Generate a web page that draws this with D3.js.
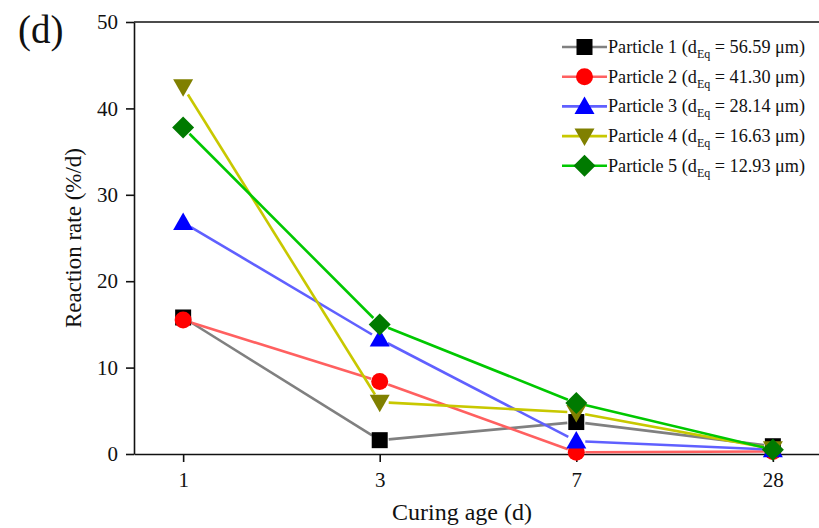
<!DOCTYPE html>
<html>
<head>
<meta charset="utf-8">
<script src="https://cdn.jsdelivr.net/npm/d3@7/dist/d3.min.js"></script>
<style>
  html, body { margin: 0; padding: 0; background: #fff; }
  svg { display: block; }
  text { font-family: "Liberation Serif", "Times New Roman", serif; fill: #111; }
</style>
</head>
<body>
<svg id="chart" width="819" height="528"></svg>
<script>
// Curing ages (categorical x axis)
const ages = ["1", "3", "7", "28"];

// Reaction rate (%/d) per particle at each curing age
const particle1 = [15.8, 1.6, 3.7, 0.9];
const particle2 = [15.5, 8.4, 0.2, 0.3];
const particle3 = [26.8, 13.3, 1.5, 0.5];
const particle4 = [42.5, 6.0, 4.8, 0.6];
const particle5 = [37.8, 15.0, 5.9, 0.5];

const seriesNames = ["Particle 1", "Particle 2", "Particle 3", "Particle 4", "Particle 5"];
const equivDiameters = ["56.59", "41.30", "28.14", "16.63", "12.93"];
const yTicks = [0, 10, 20, 30, 40, 50];

const lineColors = ["#808080", "#ff6060", "#6060ff", "#c8c800", "#00c800"];
const markColors = ["#000000", "#ff0000", "#0000ff", "#808000", "#007a00"];
const markShapes = ["square", "circle", "triangleUp", "triangleDown", "diamond"];

const series = [particle1, particle2, particle3, particle4, particle5].map((vals, i) => ({
  name: seriesNames[i], dEq: equivDiameters[i], values: vals,
  line: lineColors[i], mark: markColors[i], shape: markShapes[i]
}));

const svg = d3.select("#chart");
const margin = { left: 134, top: 22, right: -3, bottom: 74 };
const W = 819, H = 528;

const x = d3.scalePoint().domain(ages).range([margin.left, W - margin.right]).padding(0.25);
const y = d3.scaleLinear().domain([0, 50]).range([H - margin.bottom, margin.top]);

// Marker path generator
function markerPath(shape, cx, cy) {
  switch (shape) {
    case "square": { const s = 8; return `M${cx-s},${cy-s}h${2*s}v${2*s}h${-2*s}Z`; }
    case "circle": { const r = 8.5; return `M${cx-r},${cy}a${r},${r} 0 1,0 ${2*r},0a${r},${r} 0 1,0 ${-2*r},0Z`; }
    case "triangleUp": { const h = 10, w = 10; return `M${cx},${cy-h}L${cx+w},${cy+h*0.75}L${cx-w},${cy+h*0.75}Z`; }
    case "triangleDown": { const h = 10, w = 10; return `M${cx},${cy+h}L${cx+w},${cy-h*0.75}L${cx-w},${cy-h*0.75}Z`; }
    case "diamond": { const s = 11; return `M${cx},${cy-s}L${cx+s},${cy}L${cx},${cy+s}L${cx-s},${cy}Z`; }
  }
}

const serif = "Liberation Serif, Times New Roman, serif";

// Axes frame: left axis, bottom axis, top border
const xAxis = d3.axisBottom(x).tickSize(8).tickSizeOuter(0);
const gx = svg.append("g").attr("transform", `translate(0,${y(0)})`).call(xAxis);
gx.select(".domain").attr("stroke", "#111").attr("stroke-width", 1.6);
gx.selectAll(".tick line").attr("stroke", "#111").attr("stroke-width", 1.6);
gx.selectAll(".tick text").attr("y", 18).attr("dy", "0.71em").attr("font-size", 21)
  .style("font-family", serif).attr("fill", "#111");

const yAxis = d3.axisLeft(y).tickValues(yTicks).tickSize(8).tickSizeOuter(0);
const gy = svg.append("g").attr("transform", `translate(${margin.left},0)`).call(yAxis);
gy.select(".domain").attr("stroke", "#111").attr("stroke-width", 1.6);
gy.selectAll(".tick line").attr("stroke", "#111").attr("stroke-width", 1.6);
gy.selectAll(".tick text").attr("x", -16).attr("font-size", 21)
  .style("font-family", serif).attr("fill", "#111");

svg.append("line")
  .attr("x1", margin.left).attr("x2", W).attr("y1", y(50)).attr("y2", y(50))
  .attr("stroke", "#111").attr("stroke-width", 1.6);

// Series lines, with a small gap left around each marker
const gap = 9;
const plot = svg.append("g");
series.forEach(s => {
  const pts = s.values.map((v, i) => [x(ages[i]), y(v)]);
  for (let i = 0; i < pts.length - 1; i++) {
    const [x1, y1] = pts[i], [x2, y2] = pts[i + 1];
    const len = Math.hypot(x2 - x1, y2 - y1);
    if (len <= 2 * gap) continue;
    const ux = (x2 - x1) / len, uy = (y2 - y1) / len;
    plot.append("line")
      .attr("x1", x1 + ux * gap).attr("y1", y1 + uy * gap)
      .attr("x2", x2 - ux * gap).attr("y2", y2 - uy * gap)
      .attr("stroke", s.line).attr("stroke-width", 2.6);
  }
});
series.forEach(s => {
  plot.selectAll(null).data(s.values).join("path")
    .attr("d", (v, i) => markerPath(s.shape, x(ages[i]), y(v)))
    .attr("fill", s.mark);
});

// Legend
const legend = svg.append("g").attr("transform", "translate(562,47)");
series.forEach((s, i) => {
  const row = legend.append("g").attr("transform", `translate(0,${i * 29.7})`);
  row.append("line").attr("x1", 0).attr("x2", 45).attr("y1", 0).attr("y2", 0)
    .attr("stroke", s.line).attr("stroke-width", 2.6);
  row.append("path").attr("d", markerPath(s.shape, 22.5, 0)).attr("fill", s.mark);
  const t = row.append("text").attr("x", 46).attr("y", 6).attr("font-size", 18.2);
  t.append("tspan").text(`${s.name} (d`);
  t.append("tspan").attr("font-size", 12).attr("dy", 5).text("Eq");
  t.append("tspan").attr("dy", -5).text(` = ${s.dEq} \u03bcm)`);
});

// Axis titles and panel label
svg.append("text")
  .attr("transform", `translate(81,${(y(0) + y(50)) / 2}) rotate(-90)`)
  .attr("text-anchor", "middle").attr("font-size", 23)
  .text("Reaction rate (%/d)");

svg.append("text")
  .attr("x", 462).attr("y", 520)
  .attr("text-anchor", "middle").attr("font-size", 24)
  .text("Curing age (d)");

svg.append("text")
  .attr("x", 18).attr("y", 43).attr("font-size", 39)
  .text("(d)");
</script>
</body>
</html>
